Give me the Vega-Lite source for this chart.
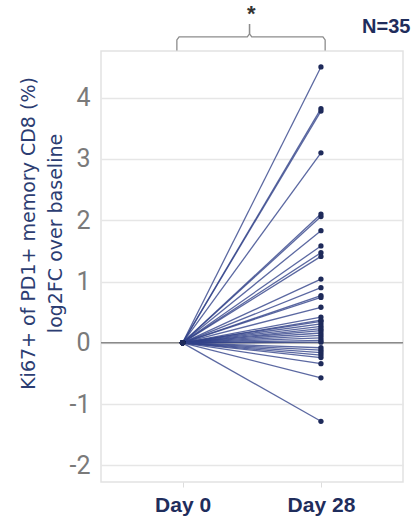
{
  "$schema": "https://vega.github.io/schema/vega-lite/v6.json",
  "width": 302,
  "height": 431,
  "autosize": "none",
  "padding": {"left": 101, "top": 51, "right": 14, "bottom": 49},
  "background": "white",
  "config": {
    "view": {"stroke": "#e2e2e2", "strokeWidth": 1.5},
    "font": "Liberation Sans"
  },
  "datasets": {
    "subjects": [
      {"id": 1, "day": 0, "value": 0}, {"id": 1, "day": 28, "value": 4.50},
      {"id": 2, "day": 0, "value": 0}, {"id": 2, "day": 28, "value": 3.82},
      {"id": 3, "day": 0, "value": 0}, {"id": 3, "day": 28, "value": 3.78},
      {"id": 4, "day": 0, "value": 0}, {"id": 4, "day": 28, "value": 3.10},
      {"id": 5, "day": 0, "value": 0}, {"id": 5, "day": 28, "value": 2.10},
      {"id": 6, "day": 0, "value": 0}, {"id": 6, "day": 28, "value": 2.06},
      {"id": 7, "day": 0, "value": 0}, {"id": 7, "day": 28, "value": 1.83},
      {"id": 8, "day": 0, "value": 0}, {"id": 8, "day": 28, "value": 1.58},
      {"id": 9, "day": 0, "value": 0}, {"id": 9, "day": 28, "value": 1.47},
      {"id": 10, "day": 0, "value": 0}, {"id": 10, "day": 28, "value": 1.41},
      {"id": 11, "day": 0, "value": 0}, {"id": 11, "day": 28, "value": 1.04},
      {"id": 12, "day": 0, "value": 0}, {"id": 12, "day": 28, "value": 0.90},
      {"id": 13, "day": 0, "value": 0}, {"id": 13, "day": 28, "value": 0.77},
      {"id": 14, "day": 0, "value": 0}, {"id": 14, "day": 28, "value": 0.74},
      {"id": 15, "day": 0, "value": 0}, {"id": 15, "day": 28, "value": 0.58},
      {"id": 16, "day": 0, "value": 0}, {"id": 16, "day": 28, "value": 0.42},
      {"id": 17, "day": 0, "value": 0}, {"id": 17, "day": 28, "value": 0.37},
      {"id": 18, "day": 0, "value": 0}, {"id": 18, "day": 28, "value": 0.35},
      {"id": 19, "day": 0, "value": 0}, {"id": 19, "day": 28, "value": 0.31},
      {"id": 20, "day": 0, "value": 0}, {"id": 20, "day": 28, "value": 0.27},
      {"id": 21, "day": 0, "value": 0}, {"id": 21, "day": 28, "value": 0.23},
      {"id": 22, "day": 0, "value": 0}, {"id": 22, "day": 28, "value": 0.20},
      {"id": 23, "day": 0, "value": 0}, {"id": 23, "day": 28, "value": 0.16},
      {"id": 24, "day": 0, "value": 0}, {"id": 24, "day": 28, "value": 0.12},
      {"id": 25, "day": 0, "value": 0}, {"id": 25, "day": 28, "value": 0.08},
      {"id": 26, "day": 0, "value": 0}, {"id": 26, "day": 28, "value": 0.04},
      {"id": 27, "day": 0, "value": 0}, {"id": 27, "day": 28, "value": -0.08},
      {"id": 28, "day": 0, "value": 0}, {"id": 28, "day": 28, "value": -0.12},
      {"id": 29, "day": 0, "value": 0}, {"id": 29, "day": 28, "value": -0.16},
      {"id": 30, "day": 0, "value": 0}, {"id": 30, "day": 28, "value": -0.20},
      {"id": 31, "day": 0, "value": 0}, {"id": 31, "day": 28, "value": -0.24},
      {"id": 32, "day": 0, "value": 0}, {"id": 32, "day": 28, "value": -0.34},
      {"id": 33, "day": 0, "value": 0}, {"id": 33, "day": 28, "value": -0.57},
      {"id": 34, "day": 0, "value": 0}, {"id": 34, "day": 28, "value": -1.28},
      {"id": 35, "day": 0, "value": 0}, {"id": 35, "day": 28, "value": 0.01}
    ],
    "bracket": [
      {"part": "left", "step": 1, "day": -1.15, "value": 4.77},
      {"part": "left", "step": 2, "day": -1.15, "value": 4.94},
      {"part": "left", "step": 3, "day": -0.7, "value": 4.99},
      {"part": "left", "step": 4, "day": 13.1, "value": 4.99},
      {"part": "left", "step": 5, "day": 13.55, "value": 5.04},
      {"part": "left", "step": 6, "day": 13.55, "value": 5.20},
      {"part": "right", "step": 1, "day": 28.85, "value": 4.77},
      {"part": "right", "step": 2, "day": 28.85, "value": 4.94},
      {"part": "right", "step": 3, "day": 28.4, "value": 4.99},
      {"part": "right", "step": 4, "day": 14.0, "value": 4.99},
      {"part": "right", "step": 5, "day": 13.55, "value": 5.04},
      {"part": "right", "step": 6, "day": 13.55, "value": 5.20}
    ],
    "notes": [
      {"label": "*", "day": 13.9, "value": 5.36, "kind": "sig"},
      {"label": "N=35", "day": 41.2, "value": 5.15, "kind": "n"}
    ]
  },
  "encoding": {
    "x": {
      "field": "day",
      "type": "quantitative",
      "scale": {"domain": [-16.5, 44.6], "nice": false, "zero": false},
      "axis": {
        "values": [0, 28],
        "labelExpr": "'Day ' + datum.value",
        "title": null,
        "grid": false,
        "domain": false,
        "ticks": true,
        "tickColor": "#dddddd",
        "tickSize": 5,
        "labelPadding": 7,
        "labelFont": "Liberation Sans",
        "labelFontWeight": "bold",
        "labelFontSize": 21,
        "labelColor": "#1f2d5c"
      }
    },
    "y": {
      "field": "value",
      "type": "quantitative",
      "scale": {"domain": [-2.27, 4.76], "nice": false, "zero": false},
      "axis": {
        "values": [-2, -1, 0, 1, 2, 3, 4],
        "labelExpr": "'' + datum.value",
        "title": ["Ki67+ of PD1+ memory CD8 (%)", "log2FC over baseline"],
        "titleFont": "DejaVu Sans",
        "titleFontSize": 19,
        "titleFontWeight": "normal",
        "titleColor": "#2c3d72",
        "titleLineHeight": 27,
        "titleAngle": -90,
        "titleAlign": "center",
        "titleBaseline": "middle",
        "titleX": -73,
        "titleY": 182,
        "domain": false,
        "ticks": false,
        "labelPadding": 11,
        "labelFont": "Roboto",
        "labelFontSize": 25,
        "labelColor": "#7a7a7a",
        "gridColor": "#e6e6e6",
        "gridWidth": 1.5
      }
    }
  },
  "layer": [
    {
      "mark": {"type": "rule", "color": "#8a8a8a", "strokeWidth": 1.5},
      "data": {"values": [{"zero": 0}]},
      "encoding": {"y": {"field": "zero", "type": "quantitative"}, "x": null}
    },
    {
      "data": {"name": "subjects"},
      "mark": {"type": "line", "color": "#32428a", "strokeWidth": 1.3, "opacity": 0.8},
      "encoding": {"detail": {"field": "id", "type": "nominal"}}
    },
    {
      "data": {"name": "subjects"},
      "mark": {"type": "circle", "color": "#1e2a5a", "size": 28, "opacity": 1}
    },
    {
      "data": {"name": "bracket"},
      "mark": {"type": "line", "color": "#8c8c8c", "strokeWidth": 1.3, "clip": false, "interpolate": "linear"},
      "encoding": {
        "detail": {"field": "part", "type": "nominal"},
        "order": {"field": "step", "type": "quantitative"}
      }
    },
    {
      "data": {"name": "notes"},
      "transform": [{"filter": "datum.kind == 'sig'"}],
      "mark": {"type": "text", "clip": false, "fontSize": 22, "fontWeight": "bold", "color": "#333333", "baseline": "middle", "align": "center"},
      "encoding": {"text": {"field": "label"}}
    },
    {
      "data": {"name": "notes"},
      "transform": [{"filter": "datum.kind == 'n'"}],
      "mark": {"type": "text", "clip": false, "fontSize": 20, "fontWeight": "bold", "color": "#1f2d5c", "baseline": "middle", "align": "center"},
      "encoding": {"text": {"field": "label"}}
    }
  ]
}
